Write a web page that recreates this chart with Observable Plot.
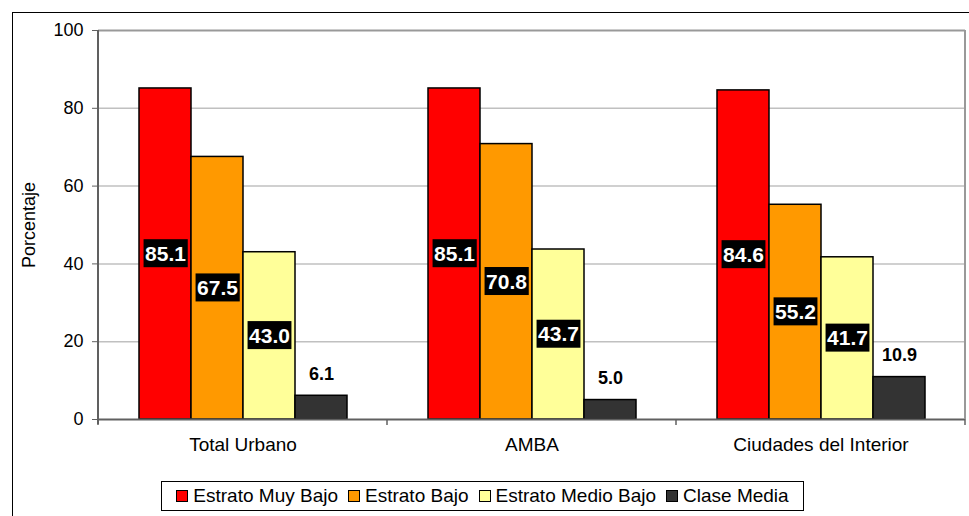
<!DOCTYPE html>
<html>
<head>
<meta charset="utf-8">
<script src="https://cdn.jsdelivr.net/npm/d3@7"></script>
<script src="https://cdn.jsdelivr.net/npm/@observablehq/plot@0.6"></script>
<style>
  html, body { margin: 0; padding: 0; background: #fff; }
  body { width: 969px; height: 516px; position: relative; overflow: hidden; font-family: "Liberation Sans", Arial, sans-serif; }
  #frame { position: absolute; left: 12px; top: 12px; width: 1000px; height: 600px; border: 1.5px solid #000; box-sizing: border-box; }
  #chart { position: absolute; left: 0; top: 0; }
  #legend { position: absolute; left: 161px; top: 481px; width: 643px; height: 30px; border: 1px solid #000; box-sizing: border-box; background: #fff;
            display: flex; align-items: center; justify-content: center; gap: 10px; font-size: 19px; color: #000; }
  .item { display: flex; align-items: center; gap: 5px; white-space: nowrap; }
  .sw { width: 10px; height: 10px; border: 1.5px solid #000; }
</style>
</head>
<body>
<div id="frame"></div>
<div id="chart"></div>
<div id="legend"></div>
<script>
const regions = ["Total Urbano", "AMBA", "Ciudades del Interior"];
const estratos = ["Estrato Muy Bajo", "Estrato Bajo", "Estrato Medio Bajo", "Clase Media"];
const colors = ["#FF0000", "#FF9900", "#FFFF99", "#333333"];
const totalUrbano = [85.1, 67.5, 43.0, 6.1];
const amba = [85.1, 70.8, 43.7, 5.0];
const interior = [84.6, 55.2, 41.7, 10.9];
const yTicks = [0, 20, 40, 60, 80, 100];

const series = [totalUrbano, amba, interior];
const rows = [];
regions.forEach((r, i) => estratos.forEach((e, j) => rows.push({region: r, estrato: e, value: series[i][j]})));
const inside = rows.filter(d => d.estrato !== "Clase Media");
const outside = rows.filter(d => d.estrato === "Clase Media");

const font = "Liberation Sans, Arial, sans-serif";
const plot = Plot.plot({
  width: 969,
  height: 470,
  marginLeft: 97,
  marginRight: 4,
  marginTop: 30,
  marginBottom: 51,
  style: {fontFamily: font, fontSize: "18px", background: "transparent", color: "#000"},
  fx: {domain: regions, padding: 0},
  x: {domain: estratos, paddingInner: 0, paddingOuter: 0.76, axis: null},
  y: {domain: [0, 100]},
  color: {domain: estratos, range: colors},
  marks: [
    Plot.gridY({ticks: yTicks.filter(t => t > 0 && t < 100), stroke: "#c0c0c0", strokeOpacity: 1, strokeWidth: 1.5}),
    Plot.ruleY([100], {stroke: "#999", strokeWidth: 2}),
    Plot.barY(rows, {fx: "region", x: "estrato", y: "value", fill: "estrato", stroke: "#000", strokeWidth: 1.5}),
    Plot.ruleY([0], {stroke: "#606060", strokeWidth: 2}),
    Plot.text(inside, {fx: "region", x: "estrato", y: d => d.value / 2, text: d => d.value.toFixed(1),
      fill: "white", fontWeight: "bold", fontSize: 21}),
    Plot.text(outside, {fx: "region", x: "estrato", y: "value", dy: -22, text: d => d.value.toFixed(1),
      fill: "black", fontWeight: "bold", fontSize: 18}),
    Plot.axisY({ticks: yTicks, tickSize: 6, tickPadding: 9, stroke: "#606060", fontSize: 18,
      label: "Porcentaje", labelAnchor: "center", labelArrow: "none", labelOffset: 76}),
    Plot.axisFx({anchor: "bottom", tickSize: 0, tickPadding: 18, fontSize: 19, label: null})
  ]
});
document.getElementById("chart").appendChild(plot);

const svg = d3.select(plot);

// black label backgrounds behind the white in-bar values
svg.selectAll("text").filter(function () {
  return getComputedStyle(this).fill === "rgb(255, 255, 255)";
}).each(function () {
  const b = this.getBBox();
  const padX = 1.5, padY = 3.5;
  const r = document.createElementNS("http://www.w3.org/2000/svg", "rect");
  r.setAttribute("x", b.x - padX);
  r.setAttribute("y", b.y - padY + 1);
  r.setAttribute("width", b.width + 2 * padX);
  r.setAttribute("height", b.height + 2 * padY - 2);
  r.setAttribute("fill", "black");
  r.setAttribute("stroke", "none");
  const t = this.getAttribute("transform");
  if (t) r.setAttribute("transform", t);
  this.parentNode.insertBefore(r, this);
});

// plot-area border, left axis line and category boundary ticks, from Plot's scales
const fx = plot.scale("fx"), y = plot.scale("y");
const xs = regions.map(r => fx.apply(r)).concat([fx.apply(regions[regions.length - 1]) + fx.bandwidth]);
const y0 = y.apply(0), y100 = y.apply(100);
const g = svg.append("g");
g.append("line").attr("x1", xs[xs.length - 1]).attr("x2", xs[xs.length - 1]).attr("y1", y100).attr("y2", y0)
  .attr("stroke", "#999").attr("stroke-width", 2);
g.append("line").attr("x1", xs[0]).attr("x2", xs[0]).attr("y1", y100).attr("y2", y0 + 5)
  .attr("stroke", "#606060").attr("stroke-width", 2);
xs.forEach(x => g.append("line").attr("x1", x).attr("x2", x).attr("y1", y0).attr("y2", y0 + 6)
  .attr("stroke", "#606060").attr("stroke-width", 1.5));

// legend
const legend = d3.select("#legend");
estratos.forEach((e, i) => {
  const it = legend.append("div").attr("class", "item");
  it.append("div").attr("class", "sw").style("background", colors[i]);
  it.append("span").text(e);
});
</script>
</body>
</html>
